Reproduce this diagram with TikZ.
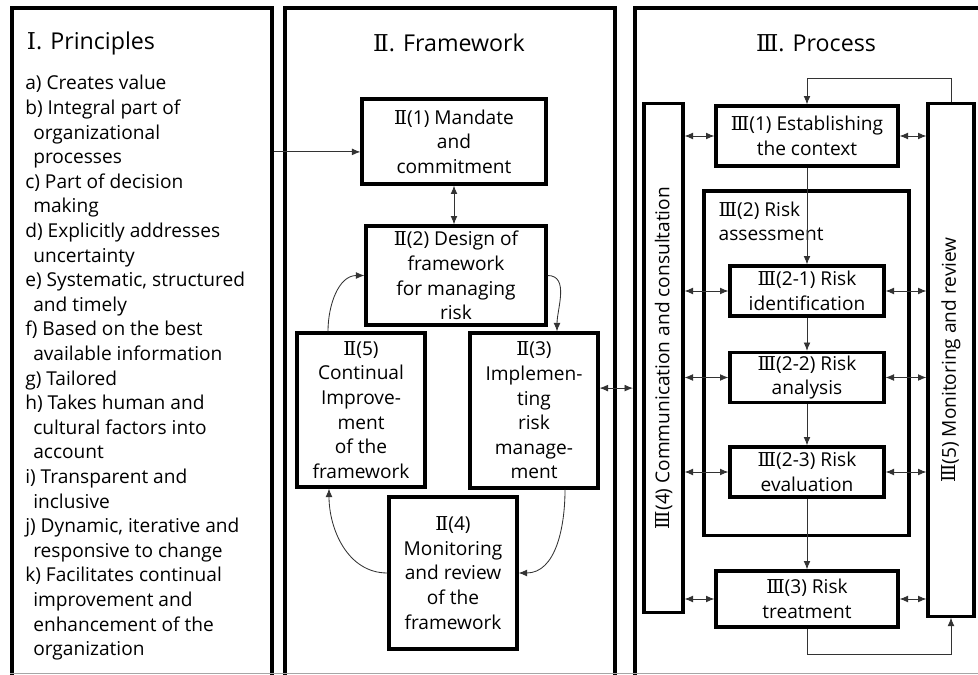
\documentclass[tikz,border=0pt]{standalone}
\usepackage{fontspec}
\setmainfont{Open Sans}
\newfontfamily\numfont{DejaVu Serif}
\newcommand{\numr}[1]{{\numfont #1}}
\newcommand{\ind}{\hspace*{0.2cm}}
\usetikzlibrary{arrows.meta, positioning}

\begin{document}
\begin{tikzpicture}[x=0.025cm, y=-0.025cm,
      every node/.style={font=\fontsize{13.6}{17.5}\selectfont},
      panel/.style={rectangle, draw=black, line width=2.6pt, anchor=north west, minimum height=17.6cm},
      head/.style={font=\fontsize{16.5}{20}\selectfont},
      box/.style={rectangle, draw=black, line width=2.2pt, align=center, inner sep=0pt},
      fw/.style={box, minimum width=3.2cm},
      step box/.style={box, minimum width=3.85cm, minimum height=1.25cm},
      column/.style={rectangle, draw=black, line width=2.2pt},
      link/.style={line width=0.6pt, draw=black!80, -{Latex[length=6pt, width=4.8pt]}},
      both/.style={link, {Latex[length=6pt, width=4.8pt]}-{Latex[length=6pt, width=4.8pt]}}
  ]
    \useasboundingbox (0,0) rectangle (978,675);
    \clip (0,0) rectangle (978,675);

    % the three panels
    \node[panel, minimum width=6.5cm] (pI) at (10,6) {};
    \node[panel, minimum width=8.25cm] (pII) at (283,6) {};
    \node[panel, minimum width=9.6cm] (pIII) at (633,6) {};
    \draw[black!35, line width=0.6pt] (pI.west |- 0,673) -- (pIII.east |- 0,673);

    \node[head, anchor=west] (hI) at (22,43) {\numr{Ⅰ}. Principles};
    \node[head] (hII) at (449,43) {\numr{Ⅱ}. Framework};
    \node[head] (hIII) at (816,43) {\numr{Ⅲ}. Process};

    \node[anchor=north west, align=left, inner sep=0pt] (list) at (25,75) {%
      a) Creates value\\
      b) Integral part of\\
      \ind organizational\\
      \ind processes\\
      c) Part of decision\\
      \ind making\\
      d) Explicitly addresses\\
      \ind uncertainty\\
      e) Systematic, structured\\
      \ind and timely\\
      f) Based on the best\\
      \ind available information\\
      g) Tailored\\
      h) Takes human and\\
      \ind cultural factors into\\
      \ind account\\
      i) Transparent and\\
      \ind inclusive\\
      j) Dynamic, iterative and\\
      \ind responsive to change\\
      k) Facilitates continual\\
      \ind improvement and\\
      \ind enhancement of the\\
      \ind organization};

    % framework
    \node[box, minimum width=4.6cm, minimum height=2.125cm] (mandate) at (454,141.5) {\numr{Ⅱ}(1) Mandate\\and\\commitment};
    \node[box, minimum width=4.5cm, minimum height=2.475cm] (design) at (456,275.5) {\numr{Ⅱ}(2) Design of\\framework\\for managing\\risk};
    \node[fw, minimum height=3.85cm] (improve) at (361,410) {\numr{Ⅱ}(5)\\Continual\\Improve-\\ment\\of the\\framework};
    \node[fw, minimum height=3.875cm] (implement) at (534,410.5) {\numr{Ⅱ}(3)\\Implemen-\\ting\\risk\\manage-\\ment};
    \node[fw, minimum height=3.8cm] (monitor) at (453,573) {\numr{Ⅱ}(4)\\Monitoring\\and review\\of the\\framework};

    \coordinate (pin) at ([yshift=-0.26cm]mandate.west);
    \draw[link] (pI.east |- pin) -- (pin);
    \draw[both] (mandate.south) -- (mandate.south |- design.north);
    \draw[link] ([xshift=-0.825cm]improve.north) to[out=90, in=180] (design.west);
    \draw[link] (design.east) to[out=0, in=90] ([xshift=0.575cm]implement.north);
    \draw[link] ([xshift=0.775cm]implement.south) to[out=-90, in=0] (monitor.east);
    \draw[link] (monitor.west) to[out=180, in=-90] ([xshift=-0.8cm]improve.south);
    \coordinate (iout) at ([yshift=0.56cm]implement.east);
    \draw[both] (iout) -- (pIII.west |- iout);

    % process
    \node[column, minimum width=0.975cm, minimum height=12.7cm] (comm) at (663.5,358) {};
    \node[column, minimum width=1.15cm, minimum height=12.8cm] (review) at (951,360) {};
    \node[rotate=90] (commtext) at (comm.center) {\numr{Ⅲ}(4) Communication and consultation};
    \node[rotate=90] (reviewtext) at (review.center) {\numr{Ⅲ}(5) Monitoring and review};

    \node[box, minimum width=5.125cm, minimum height=8.6cm] (assess) at (806.5,363) {};
    \node[anchor=north west, align=left, inner sep=0pt] (assesstext) at ([xshift=0.4cm, yshift=-0.3cm]assess.north west) {\numr{Ⅲ}(2) Risk\\assessment};

    \node[box, minimum width=4.55cm, minimum height=1.5cm] (context) at (807,136) {\numr{Ⅲ}(1) Establishing\\the context};
    \node[step box] (ident) at (807,291) {\numr{Ⅲ}(2-1) Risk\\identification};
    \node[step box] (analysis) at (807,377.5) {\numr{Ⅲ}(2-2) Risk\\analysis};
    \node[step box] (evaluation) at (807,472) {\numr{Ⅲ}(2-3) Risk\\evaluation};
    \node[box, minimum width=4.55cm, minimum height=1.4cm] (treatment) at (807,599) {\numr{Ⅲ}(3) Risk\\treatment};

    \draw[link] (context.south) -- (ident.north);
    \draw[link] (ident.south) -- (analysis.north);
    \draw[link] (analysis.south) -- (evaluation.north);
    \draw[link] (evaluation.south) -- (treatment.north);
    \draw[link] (review.north) -- ++(0,0.6cm) -| (context.north);
    \draw[link] (treatment.south) -- ++(0,-0.65cm) -| (review.south);

    \foreach \b in {context,ident,analysis,evaluation,treatment} {
      \draw[both] (comm.east |- \b.west) -- (\b.west);
      \draw[both] (\b.east) -- (review.west |- \b.east);
    }
  \end{tikzpicture}
\end{document}
